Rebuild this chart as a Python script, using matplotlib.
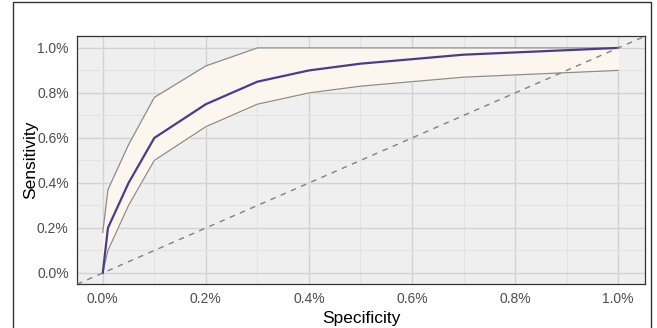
import matplotlib
matplotlib.use("Agg")
import matplotlib.pyplot as plt
from matplotlib.patches import Rectangle
from matplotlib.ticker import FuncFormatter, MultipleLocator

plt.rcParams['font.family'] = ['Liberation Sans', 'DejaVu Sans']

fpr = [0.0, 0.01, 0.05, 0.1, 0.2, 0.3, 0.4, 0.5, 0.6, 0.7, 0.8, 0.9, 1.0]
sens = [0.0, 0.20, 0.40, 0.60, 0.75, 0.85, 0.90, 0.93, 0.95, 0.97, 0.98, 0.99, 1.0]
upper = [0.18, 0.37, 0.57, 0.78, 0.92, 1.0, 1.0, 1.0, 1.0, 1.0, 1.0, 1.0, 1.0]
lower = [0.0, 0.10, 0.30, 0.50, 0.65, 0.75, 0.80, 0.83, 0.85, 0.87, 0.88, 0.89, 0.90]
ticks = [0.0, 0.2, 0.4, 0.6, 0.8, 1.0]

fig = plt.figure(figsize=(6.57, 3.28), dpi=100)
fig.patch.set_facecolor("white")
ax = fig.add_axes([77/657, 1-284/328, (645-77)/657, (284-36)/328])
ax.set_facecolor("#EFEFEF")

ax.set_xlim(-0.05, 1.052)
ax.set_ylim(-0.049, 1.053)

ax.xaxis.set_minor_locator(MultipleLocator(0.1))
ax.yaxis.set_minor_locator(MultipleLocator(0.1))
ax.set_xticks(ticks)
ax.set_yticks(ticks)
ax.grid(which="major", color="#D2D2D2", linewidth=1.0)
ax.grid(which="minor", color="#E2E2E2", linewidth=0.7)
ax.set_axisbelow(True)

ax.fill_between(fpr, lower, upper, color="#FDF6EE", zorder=2)
ax.plot(fpr, upper, color="#8C8C8C", lw=0.9, zorder=3)
ax.plot(fpr, lower, color="#8C8C8C", lw=0.9, zorder=3)
ax.plot(fpr, sens, color="#483D8B", lw=1.6, zorder=4)
ax.plot([-0.05, 1.052], [-0.05, 1.052], color="#808080", lw=1.0,
        ls=(0, (4, 4)), zorder=5)

fmt = FuncFormatter(lambda v, p: f"{v:.1f}%")
ax.xaxis.set_major_formatter(fmt)
ax.yaxis.set_major_formatter(fmt)
ax.tick_params(which="both", length=0, labelsize=10, labelcolor="#4D4D4D", pad=6)
for s in ax.spines.values():
    s.set_color("#333333")
    s.set_linewidth(0.9)

ax.set_xlabel("Specificity", fontsize=12.5, color="black", labelpad=3)
ax.set_ylabel("Sensitivity", fontsize=12.5, color="black", labelpad=-1)

fig.patches.append(Rectangle((13/657, -0.1), (651-13)/657, 1.1 - 2/328,
                             transform=fig.transFigure, fill=False,
                             edgecolor="#333333", linewidth=1.0))

fig.savefig("out.png", dpi=100)
